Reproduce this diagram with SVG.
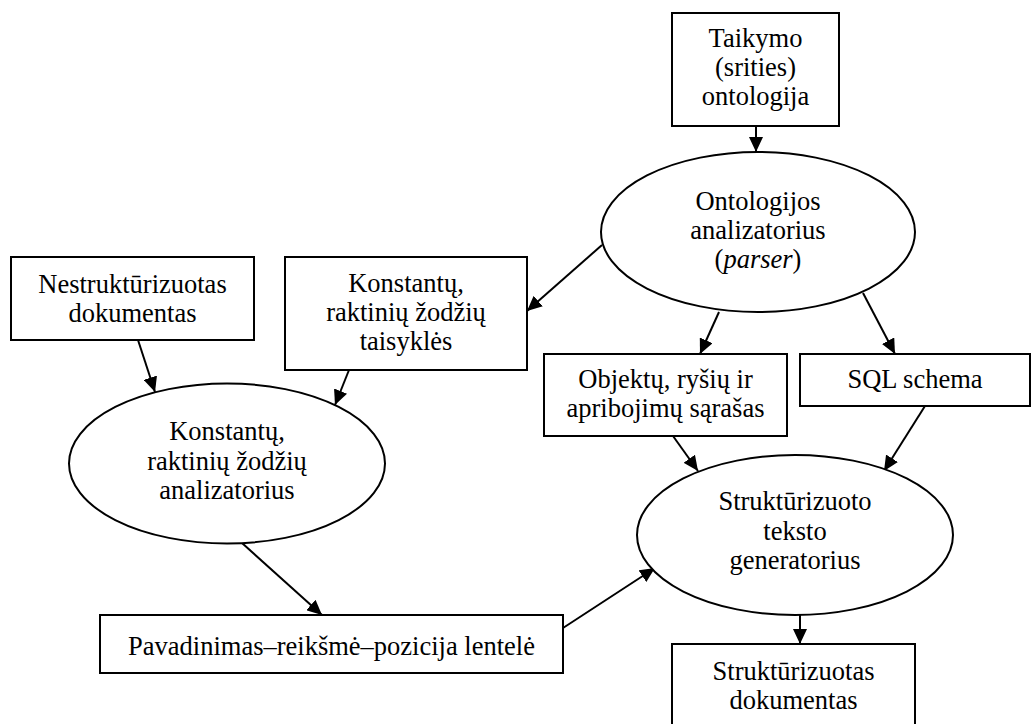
<svg xmlns="http://www.w3.org/2000/svg" width="1032" height="724" viewBox="0 0 1032 724">
  <style>
    .box { fill: #fff; stroke: #000; stroke-width: 2; }
    .ell { fill: #fff; stroke: #000; stroke-width: 2; }
    .lbl { font-family: "Liberation Serif", "Times New Roman", serif; font-size: 26.5px; fill: #000; text-anchor: middle; }
    .edge { stroke: #000; stroke-width: 2; fill: none; marker-end: url(#arrow); }
  </style>
  <defs>
    <marker id="arrow" markerUnits="userSpaceOnUse" markerWidth="16" markerHeight="14" refX="15" refY="7" orient="auto">
      <path d="M0,0 L15,7 L0,14 z" fill="#000"/>
    </marker>
  </defs>

  <rect width="1032" height="724" fill="#fff"/>

  <!-- connectors -->
  <g id="connectors">
    <line class="edge" x1="756" y1="126" x2="756" y2="152"/>
    <line class="edge" x1="602" y1="245" x2="527" y2="311"/>
    <line class="edge" x1="719" y1="312" x2="700" y2="354"/>
    <line class="edge" x1="863" y1="293" x2="895" y2="354"/>
    <line class="edge" x1="138" y1="340" x2="155" y2="392"/>
    <line class="edge" x1="349" y1="370" x2="335" y2="405"/>
    <line class="edge" x1="673" y1="436" x2="698" y2="471"/>
    <line class="edge" x1="925" y1="406" x2="884" y2="471"/>
    <line class="edge" x1="242" y1="543" x2="322" y2="615"/>
    <line class="edge" x1="563" y1="628" x2="655" y2="568"/>
    <line class="edge" x1="800" y1="615" x2="800" y2="644"/>
  </g>

  <!-- domain ontology -->
  <g id="taikymo-ontologija">
    <rect class="box" x="672" y="13" width="167" height="113"/>
    <text class="lbl" x="755.5" y="47">Taikymo</text>
    <text class="lbl" x="755.5" y="76">(srities)</text>
    <text class="lbl" x="755.5" y="105">ontologija</text>
  </g>

  <!-- ontology parser -->
  <g id="ontologijos-analizatorius">
    <ellipse class="ell" cx="758" cy="232" rx="157" ry="80"/>
    <text class="lbl" x="758" y="210">Ontologijos</text>
    <text class="lbl" x="758" y="239">analizatorius</text>
    <text class="lbl" x="758" y="268">(<tspan font-style="italic">parser</tspan>)</text>
  </g>

  <!-- unstructured input -->
  <g id="nestrukturizuotas">
    <rect class="box" x="11" y="257" width="243" height="83"/>
    <text class="lbl" x="132.5" y="293">Nestruktūrizuotas</text>
    <text class="lbl" x="132.5" y="322">dokumentas</text>
  </g>

  <!-- keyword rules -->
  <g id="taisykles">
    <rect class="box" x="285" y="257" width="242" height="113"/>
    <text class="lbl" x="406" y="292">Konstantų,</text>
    <text class="lbl" x="406" y="321">raktinių žodžių</text>
    <text class="lbl" x="406" y="350">taisyklės</text>
  </g>

  <!-- objects list -->
  <g id="objektai">
    <rect class="box" x="544" y="354" width="243" height="82"/>
    <text class="lbl" x="665.5" y="388">Objektų, ryšių ir</text>
    <text class="lbl" x="665.5" y="417">apribojimų sąrašas</text>
  </g>

  <!-- SQL schema -->
  <g id="sql-schema">
    <rect class="box" x="800" y="354" width="230" height="52"/>
    <text class="lbl" x="915" y="388">SQL schema</text>
  </g>

  <!-- keyword analyser -->
  <g id="konstantu-analizatorius">
    <ellipse class="ell" cx="227" cy="463.5" rx="158" ry="80"/>
    <text class="lbl" x="227" y="440">Konstantų,</text>
    <text class="lbl" x="227" y="470">raktinių žodžių</text>
    <text class="lbl" x="227" y="499">analizatorius</text>
  </g>

  <!-- generator -->
  <g id="generatorius">
    <ellipse class="ell" cx="795" cy="535" rx="158" ry="80"/>
    <text class="lbl" x="795" y="510">Struktūrizuoto</text>
    <text class="lbl" x="795" y="540">teksto</text>
    <text class="lbl" x="795" y="569">generatorius</text>
  </g>

  <!-- name-value-position table -->
  <g id="lentele">
    <rect class="box" x="100" y="615" width="463" height="58"/>
    <text class="lbl" x="331.5" y="655">Pavadinimas–reikšmė–pozicija lentelė</text>
  </g>

  <!-- structured output -->
  <g id="strukturizuotas">
    <rect class="box" x="672" y="644" width="243" height="90"/>
    <text class="lbl" x="793.5" y="680">Struktūrizuotas</text>
    <text class="lbl" x="793.5" y="709">dokumentas</text>
  </g>
</svg>
